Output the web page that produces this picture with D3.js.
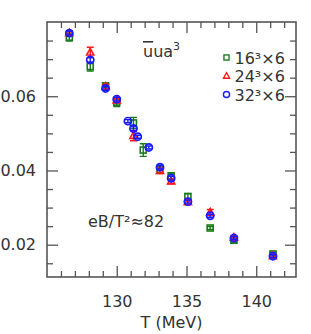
<!DOCTYPE html>
<html>
<head>
<meta charset="utf-8">
<script src="https://cdn.jsdelivr.net/npm/d3@7"></script>
<style>
  body { margin: 0; background: #fff; }
  svg text { font-family: "DejaVu Sans", sans-serif; fill: #333; }
</style>
</head>
<body>
<div id="chart"></div>
<script>
// temperatures (MeV) and <ubar u> a^3 for each lattice
var temps16 = [126.6, 128.1, 129.2, 130.0, 131.2, 131.9, 133.1, 133.9, 135.1, 136.7, 138.4, 141.2];
var vals16  = [0.0759, 0.0680, 0.0628, 0.0584, 0.0528, 0.0455, 0.0402, 0.0385, 0.0330, 0.0245, 0.0212, 0.0175];
var errs16  = [0.0010, 0.0012, 0.0005, 0.0012, 0.0015, 0.0017, 0.0008, 0.0009, 0.0007, 0.0004, 0.0005, 0.0005];

var temps24 = [126.6, 128.1, 129.2, 130.0, 131.2, 133.1, 133.9, 135.1, 136.7, 138.4, 141.2];
var vals24  = [0.0770, 0.0718, 0.0626, 0.0589, 0.0493, 0.0399, 0.0371, 0.0315, 0.0287, 0.0219, 0.0169];
var errs24  = [0.0006, 0.0014, 0.0006, 0.0006, 0.0013, 0.0007, 0.0007, 0.0006, 0.0008, 0.0005, 0.0004];

var temps32 = [126.6, 128.1, 129.2, 130.0, 130.8, 131.2, 131.5, 132.3, 133.1, 133.9, 135.1, 136.7, 138.4, 141.2];
var vals32  = [0.0770, 0.0698, 0.0621, 0.0592, 0.0533, 0.0513, 0.0491, 0.0462, 0.0409, 0.0379, 0.0316, 0.0278, 0.0218, 0.0169];
var errs32  = [0.0005, 0.0006, 0.0005, 0.0005, 0.0004, 0.0005, 0.0004, 0.0004, 0.0005, 0.0005, 0.0004, 0.0004, 0.0004, 0.0004];

var seriesNames = ["16\u00b3\u00d76", "24\u00b3\u00d76", "32\u00b3\u00d76"];
var xMajorTicks = [130, 135, 140];
var yMajorTicks = [0.02, 0.04, 0.06];

var W = 311, H = 334;
var margin = {top: 22, right: 15, bottom: 57, left: 47};
var width = W - margin.left - margin.right;
var height = H - margin.top - margin.bottom;

var svg = d3.select("#chart").append("svg")
    .attr("width", W)
    .attr("height", H);

var g = svg.append("g")
    .attr("transform", "translate(" + margin.left + "," + margin.top + ")");

var x = d3.scaleLinear().domain([125, 142.85]).range([0, width]);
var y = d3.scaleLinear().domain([0.0113, 0.08]).range([height, 0]);

var xMinor = d3.range(126, 143, 1).filter(function(d) { return xMajorTicks.indexOf(d) < 0; });
var yMinor = d3.range(0.015, 0.08, 0.005).map(function(d) { return +d.toFixed(3); })
    .filter(function(d) { return yMajorTicks.indexOf(d) < 0; });

var axisColor = "#555";

function styleAxis(sel) {
    sel.select(".domain").remove();
    sel.selectAll("line").attr("stroke", axisColor).attr("stroke-width", 1.3);
    sel.selectAll("text").attr("fill", "#333").style("font-size", "16px");
}

// bottom
g.append("g").attr("transform", "translate(0," + height + ")")
    .call(d3.axisBottom(x).tickValues(xMajorTicks).tickSizeInner(-11).tickSizeOuter(0).tickPadding(19).tickFormat(d3.format("d")))
    .call(styleAxis);
g.append("g").attr("transform", "translate(0," + height + ")")
    .call(d3.axisBottom(x).tickValues(xMinor).tickSizeInner(-6).tickSizeOuter(0).tickFormat(""))
    .call(styleAxis);
// top
g.append("g")
    .call(d3.axisTop(x).tickValues(xMajorTicks).tickSizeInner(-11).tickSizeOuter(0).tickFormat(""))
    .call(styleAxis);
g.append("g")
    .call(d3.axisTop(x).tickValues(xMinor).tickSizeInner(-6).tickSizeOuter(0).tickFormat(""))
    .call(styleAxis);
// left
g.append("g")
    .call(d3.axisLeft(y).tickValues(yMajorTicks).tickSizeInner(-11).tickSizeOuter(0).tickPadding(11).tickFormat(d3.format(".2f")))
    .call(styleAxis);
g.append("g")
    .call(d3.axisLeft(y).tickValues(yMinor).tickSizeInner(-6).tickSizeOuter(0).tickFormat(""))
    .call(styleAxis);
// right
g.append("g").attr("transform", "translate(" + width + ",0)")
    .call(d3.axisRight(y).tickValues(yMajorTicks).tickSizeInner(-11).tickSizeOuter(0).tickFormat(""))
    .call(styleAxis);
g.append("g").attr("transform", "translate(" + width + ",0)")
    .call(d3.axisRight(y).tickValues(yMinor).tickSizeInner(-6).tickSizeOuter(0).tickFormat(""))
    .call(styleAxis);

g.append("rect")
    .attr("width", width).attr("height", height)
    .attr("fill", "none").attr("stroke", axisColor).attr("stroke-width", 1.6);

// x label
g.append("text")
    .attr("x", width / 2).attr("y", height + 51)
    .attr("text-anchor", "middle")
    .style("font-size", "16px")
    .text("T (MeV)");

var series = [
    {t: temps16, v: vals16, e: errs16, color: "#1a7a1a", shape: "square"},
    {t: temps24, v: vals24, e: errs24, color: "#ff1a1a", shape: "triangle"},
    {t: temps32, v: vals32, e: errs32, color: "#1a1aff", shape: "circle"}
];

function drawMarker(sel, shape, color) {
    if (shape == "square") {
        sel.append("rect").attr("x", -3).attr("y", -3).attr("width", 6).attr("height", 6)
            .attr("fill", "none").attr("stroke", color).attr("stroke-width", 1.6);
    } else if (shape == "triangle") {
        sel.append("path").attr("d", "M0,-4L3.6,2.6L-3.6,2.6Z")
            .attr("fill", "none").attr("stroke", color).attr("stroke-width", 1.6);
    } else {
        sel.append("circle").attr("r", 3.6)
            .attr("fill", "none").attr("stroke", color).attr("stroke-width", 1.7);
    }
}

series.forEach(function(s) {
    var pts = s.t.map(function(t, i) { return {t: t, v: s.v[i], e: s.e[i]}; });
    var pg = g.append("g").selectAll("g").data(pts).enter().append("g")
        .attr("transform", function(d) { return "translate(" + x(d.t) + "," + y(d.v) + ")"; });
    pg.append("path")
        .attr("d", function(d) {
            var h1 = y(d.v + d.e) - y(d.v), h2 = y(d.v - d.e) - y(d.v);
            return "M0," + h1 + "V" + h2 + "M-3.5," + h1 + "H3.5M-3.5," + h2 + "H3.5";
        })
        .attr("fill", "none").attr("stroke", s.color).attr("stroke-width", 1.4);
    pg.each(function() { drawMarker(d3.select(this), s.shape, s.color); });
});

// legend
var legend = g.append("g").attr("transform", "translate(" + (226.5 - margin.left) + "," + (57.5 - margin.top) + ")");
seriesNames.forEach(function(name, i) {
    var row = legend.append("g").attr("transform", "translate(0," + (i * 18.5) + ")");
    var m = row.append("g").attr("transform", "scale(0.85)");
    drawMarker(m, series[i].shape, series[i].color);
    row.append("text").attr("x", 8).attr("y", 6).style("font-size", "16px").text(name);
});

// observable label
var lab = g.append("text").attr("x", 143 - margin.left).attr("y", 57 - margin.top).style("font-size", "16px");
lab.append("tspan").style("text-decoration", "overline").text("u");
lab.append("tspan").text("ua");
lab.append("tspan").attr("dy", -7).style("font-size", "11px").text("3");

g.append("text").attr("x", 88 - margin.left).attr("y", 227 - margin.top)
    .style("font-size", "16px")
    .text("eB/T\u00b2\u224882");
</script>
</body>
</html>
